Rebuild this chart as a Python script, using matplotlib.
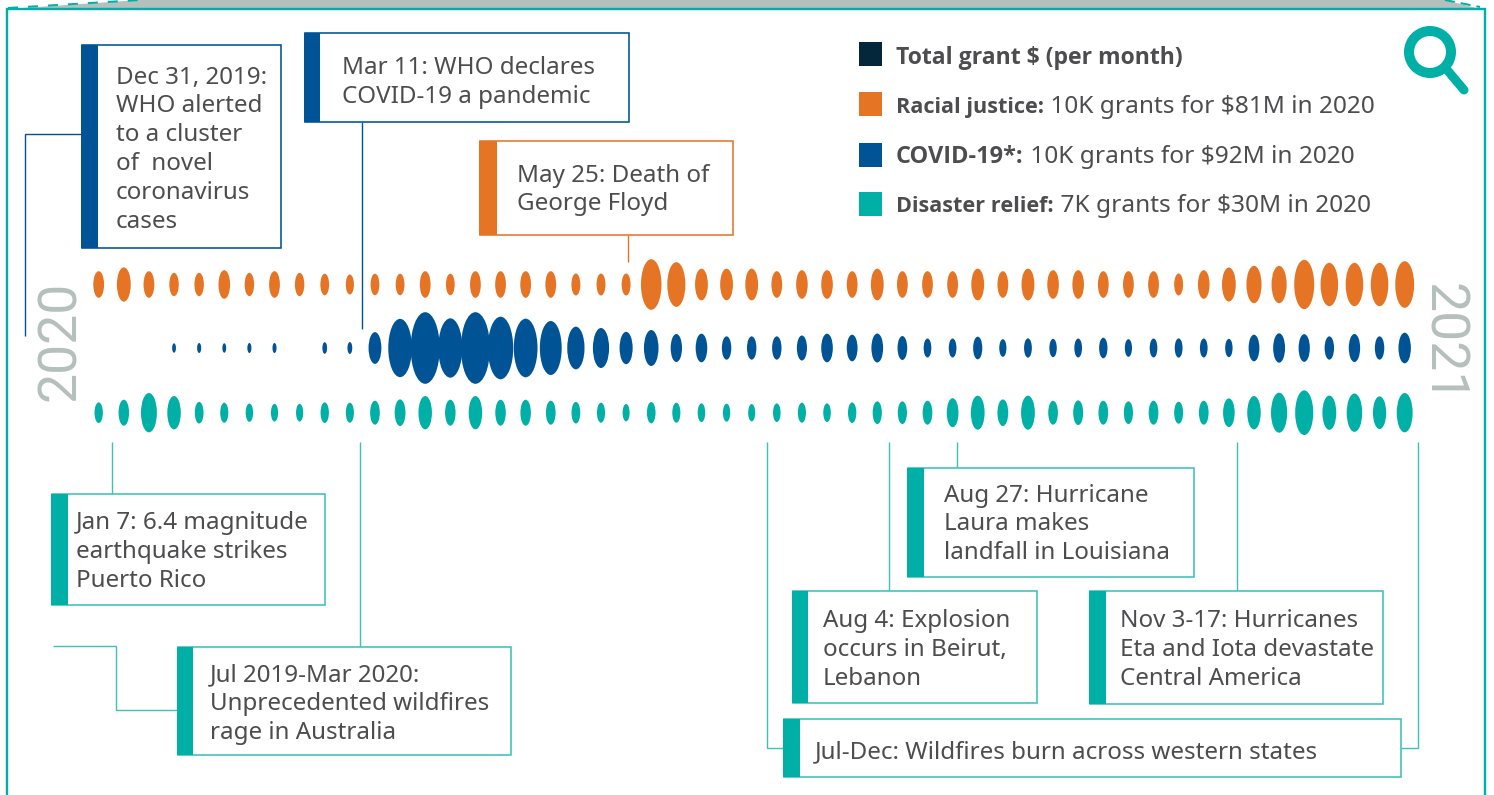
import numpy as np
import matplotlib
matplotlib.use('Agg')
import matplotlib.pyplot as plt
from matplotlib import font_manager
from matplotlib.patches import Rectangle, Polygon, Circle
from matplotlib.path import Path
from matplotlib.transforms import Affine2D

# grant dollars per period, $M
racial_justice = [1.20, 1.99, 1.20, 0.92, 0.92, 1.39, 0.92, 1.20, 0.92, 0.79, 0.68, 0.79, 0.79, 1.20,
                  0.79, 1.20, 1.20, 1.20, 1.20, 0.82, 0.82, 0.82, 4.34, 3.38, 1.70, 1.70, 1.70, 1.20,
                  1.39, 1.39, 1.20, 1.70, 1.20, 1.20, 1.20, 1.70, 1.20, 1.70, 1.39, 1.39, 1.20, 1.20,
                  1.20, 0.82, 1.39, 1.96, 2.36, 2.36, 4.12, 3.18, 3.18, 3.18, 3.68]
covid = [0, 0, 0, 0.15, 0.17, 0.15, 0.17, 0.17, 0, 0.23, 0.24, 1.70, 5.76, 8.69, 5.96, 8.69, 6.64, 5.82,
         4.93, 3.08, 2.71, 1.77, 2.19, 1.33, 1.39, 0.92, 0.92, 0.92, 1.06, 1.39, 1.20, 1.42, 0.97, 0.61,
         0.61, 0.87, 0.53, 0.63, 0.57, 0.61, 0.72, 0.53, 0.61, 0.63, 0.61, 0.57, 1.20, 1.46, 1.30, 0.92,
         1.33, 0.92, 1.59]
disaster_relief = [0.72, 1.14, 2.62, 1.88, 0.79, 0.68, 0.57, 0.53, 0.53, 0.72, 0.68, 0.97, 1.20, 1.88,
                   1.14, 1.88, 1.14, 1.14, 0.97, 0.79, 0.68, 0.51, 0.77, 0.68, 0.59, 0.55, 0.51, 0.59,
                   0.68, 0.59, 0.72, 0.87, 0.87, 0.97, 1.42, 1.96, 1.20, 1.96, 0.97, 1.03, 0.97, 0.87,
                   0.97, 0.82, 0.97, 1.39, 1.88, 2.71, 3.38, 1.99, 2.49, 1.81, 2.62]

legend_bold = ['Total grant $ (per month)', 'Racial justice:', 'COVID-19*:', 'Disaster relief:']
legend_rest = ['', ' 10K grants for $81M in 2020', ' 10K grants for $92M in 2020', ' 7K grants for $30M in 2020']

ORANGE = '#e57525'
BLUE = '#005495'
TEAL = '#00b0a6'
TEAL_EDGE = '#3dc1b8'
NAVY = '#04273b'
GRAY = '#b5bfbc'
TEXT = '#4d4d4f'
FONT = 'Noto Sans'
FS = 17.4
PX = 0.72  # one pixel in points at dpi 100

plt.rcParams['font.family'] = [FONT, 'DejaVu Sans']

# first family that really ships a bold face
BOLD_FONT = 'DejaVu Sans'
for name in ['Noto Sans', 'Open Sans', 'Roboto', 'Lato', 'Liberation Sans']:
    weights = [f.weight for f in font_manager.fontManager.ttflist if f.name == name]
    if any(w == 'bold' or w == 700 for w in weights):
        BOLD_FONT = name
        break

fig = plt.figure(figsize=(14.94, 7.95), dpi=100)
ax = fig.add_axes([0, 0, 1, 1])
ax.set_xlim(0, 1494)
ax.set_ylim(795, 0)
ax.axis('off')


def line(xs, ys, color, lw=1.4, **kw):
    ax.plot(xs, ys, color=color, lw=lw * PX, solid_capstyle='butt', solid_joinstyle='miter', **kw)


def event(x0, y0, x1, y1, bar, tx, color, edge, rows):
    ax.add_patch(Rectangle((x0 + 0.5, y0), x1 - x0 - 0.5, y1 - y0, fc='white', ec=edge, lw=1.6 * PX, zorder=3))
    ax.add_patch(Rectangle((x0, y0), bar - x0, y1 - y0, fc=color, ec='none', zorder=4))
    for text, base in rows:
        ax.text(tx, base, text, color=TEXT, fontsize=FS, va='baseline', ha='left', zorder=5)


# folder tab at the top
ax.add_patch(Polygon([(8, 9), (140, 0), (1445, 0), (1480, 9)], fc=GRAY, ec='none', zorder=1))
ax.plot([8, 140], [8, 0], color=TEAL, lw=2 * PX, ls=(0, (5, 5)), zorder=2)
ax.plot([1445, 1480], [0, 7], color=TEAL, lw=2 * PX, ls=(0, (5, 3)), zorder=2)
line([7, 7, 1485, 1485], [795, 9, 9, 795], TEAL, lw=2.4, zorder=2)

# leader lines
line([81, 25, 25], [134, 134, 336], BLUE)
line([362, 362], [122, 329], BLUE)
line([628, 628], [235, 262], ORANGE)
line([111.5, 111.5], [442, 494], TEAL_EDGE)
line([359.5, 359.5], [442, 647], TEAL_EDGE)
line([53, 116, 116, 177], [646, 646, 710, 710], TEAL_EDGE)
line([957, 957], [442, 468], TEAL_EDGE)
line([888.5, 888.5], [442, 591], TEAL_EDGE)
line([1236.5, 1236.5], [442, 591], TEAL_EDGE)
line([766.5, 766.5, 783], [442, 748, 748], TEAL_EDGE)
line([1401, 1418, 1418], [748, 748, 442], TEAL_EDGE)

# event boxes
event(81, 45, 281, 248, 98, 116, BLUE, BLUE,
      [('Dec 31, 2019:', 84), ('WHO alerted', 112), ('to a cluster', 141), ('of  novel', 170),
       ('coronavirus', 199), ('cases', 228)])
event(304, 33, 629, 122, 320, 342, BLUE, BLUE, [('Mar 11: WHO declares', 74), ('COVID-19 a pandemic', 103)])
event(479, 141, 733, 235, 497, 517, ORANGE, ORANGE, [('May 25: Death of', 182), ('George Floyd', 210)])
event(51, 494, 325, 605, 68, 76, TEAL, TEAL_EDGE, [('Jan 7: 6.4 magnitude', 529), ('earthquake strikes', 558), ('Puerto Rico', 587)])
event(177, 647, 511, 755, 193, 210, TEAL, TEAL_EDGE,
      [('Jul 2019-Mar 2020:', 681), ('Unprecedented wildfires', 710), ('rage in Australia', 739)])
event(907, 468, 1194, 577, 924, 944, TEAL, TEAL_EDGE,
      [('Aug 27: Hurricane', 502), ('Laura makes', 530), ('landfall in Louisiana', 559)])
event(792, 591, 1037, 703, 808, 823, TEAL, TEAL_EDGE, [('Aug 4: Explosion', 627), ('occurs in Beirut,', 656), ('Lebanon', 685)])
event(1089, 591, 1383, 704, 1106, 1120, TEAL, TEAL_EDGE,
      [('Nov 3-17: Hurricanes', 627), ('Eta and Iota devastate', 656), ('Central America', 685)])
event(783, 719, 1401, 777, 800, 815, TEAL, TEAL_EDGE, [('Jul-Dec: Wildfires burn across western states', 758)])

# ellipses, area follows the grant amount
ellipse = Path.unit_circle().transformed(Affine2D().scale(0.405, 1))
weeks = 98.7 + 25.115 * np.arange(len(racial_justice))
for values, y, color in [(racial_justice, 284.5, ORANGE), (covid, 348, BLUE), (disaster_relief, 412.7, TEAL)]:
    values = np.array(values)
    keep = values > 0
    ax.scatter(weeks[keep], np.full(keep.sum(), y), s=values[keep] * 306, marker=ellipse, color=color,
               linewidths=0, zorder=6)

# years
ax.text(61, 341, '2020', rotation=90, color=GRAY, fontsize=38.5, family='Roboto', fontweight='normal',
        ha='center', va='center')
ax.text(1442, 343, '2021', rotation=270, color=GRAY, fontsize=38.5, family='Roboto', fontweight='normal',
        ha='center', va='center')

# legend
fig.canvas.draw()
renderer = fig.canvas.get_renderer()
rows = zip(legend_bold, legend_rest, [NAVY, ORANGE, BLUE, TEAL], [54, 104, 155, 204], [64, 113, 163, 212],
           [16.6, 15.6, 16.9, 15.6])
for bold, rest, color, y, base, size in rows:
    ax.add_patch(Rectangle((859, y - 12), 23, 24, fc=color, ec='none'))
    t = ax.text(896, base, bold, color=TEXT, fontsize=size, family=BOLD_FONT, fontweight='bold', va='baseline')
    end = ax.transData.inverted().transform(t.get_window_extent(renderer))[1][0]
    ax.text(end, base, rest, color=TEXT, fontsize=17.6, va='baseline')

# magnifier icon
ax.add_patch(Circle((1430, 52), 21, fc='none', ec=TEAL, lw=10 * PX))
ax.plot([1448, 1464], [71, 90], color=TEAL, lw=9 * PX, solid_capstyle='round')

fig.savefig('out.png', dpi=100)
